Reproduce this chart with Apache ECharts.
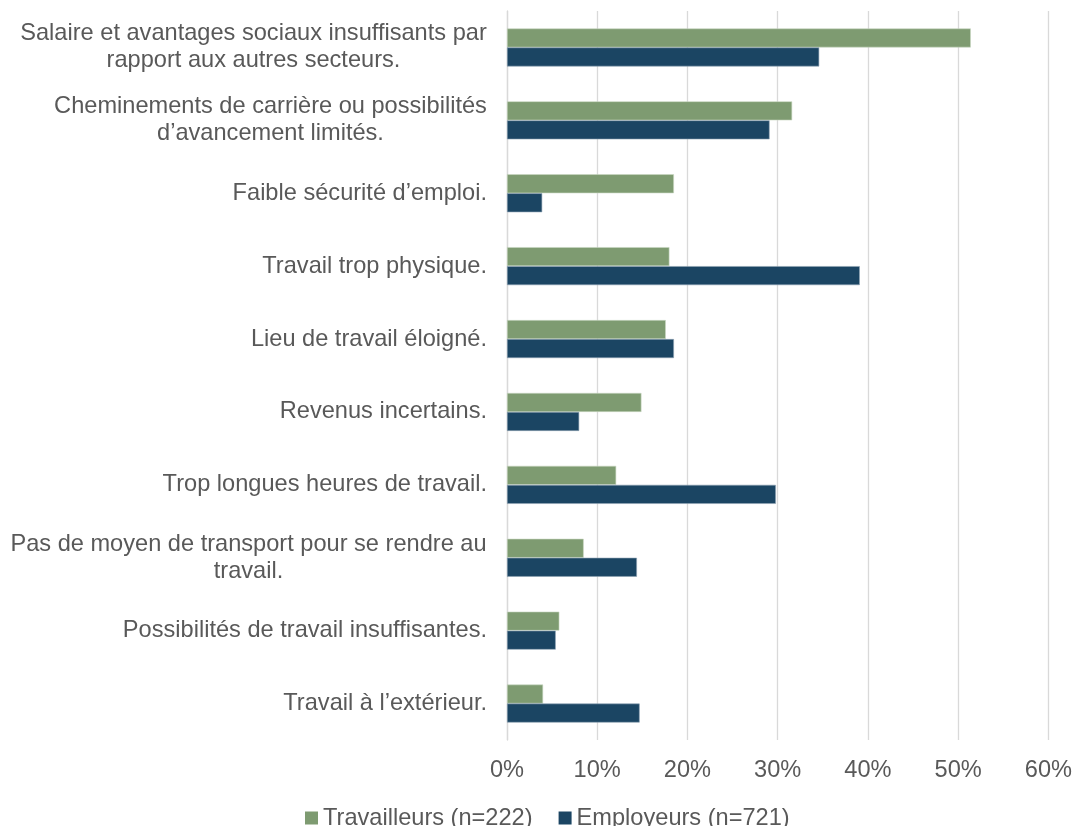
<!DOCTYPE html>
<html>
<head>
<meta charset="utf-8">
<style>
  html, body { margin: 0; padding: 0; background: #ffffff; }
  #chart { width: 1075px; height: 826px; }
</style>
<script src="https://cdn.jsdelivr.net/npm/echarts@6/dist/echarts.min.js"></script>
</head>
<body>
<div id="chart"></div>
<script>
// Reasons given, listed top to bottom
const categories = [
  "Salaire et avantages sociaux insuffisants par\nrapport aux autres secteurs.",
  "Cheminements de carrière ou possibilités\nd’avancement limités.",
  "Faible sécurité d’emploi.",
  "Travail trop physique.",
  "Lieu de travail éloigné.",
  "Revenus incertains.",
  "Trop longues heures de travail.",
  "Pas de moyen de transport pour se rendre au\ntravail.",
  "Possibilités de travail insuffisantes.",
  "Travail à l’extérieur."
];
const seriesNames = ["Travailleurs (n=222)", "Employeurs (n=721)"];
// Shares in percent
const travailleurs = [51.4, 31.6, 18.5, 18.0, 17.6, 14.9, 12.1, 8.5, 5.8, 4.0];
const employeurs   = [34.6, 29.1, 3.9, 39.1, 18.5, 8.0, 29.8, 14.4, 5.4, 14.7];
const xTicks = [0, 10, 20, 30, 40, 50, 60];

const FAMILY = '"Liberation Sans", Arial, sans-serif';
const SIZE = 23.6;
const TEXT_COLOR = '#595959';

// Two-line labels: lines are centred on each other, the block is right-aligned.
const ctx = document.createElement('canvas').getContext('2d');
ctx.font = SIZE + 'px ' + FAMILY;
const rich = {};
const labelMap = {};
categories.forEach((c, i) => {
  const lines = c.split('\n');
  if (lines.length > 1) {
    const w = Math.ceil(Math.max(...lines.map(l => ctx.measureText(l).width)));
    const key = 'w' + i;
    rich[key] = { width: w, align: 'center', fontSize: SIZE, lineHeight: 27,
                  color: TEXT_COLOR, fontFamily: FAMILY };
    labelMap[c] = lines.map(l => '{' + key + '|' + l + '}').join('\n');
  } else {
    labelMap[c] = c;
  }
});

const chart = echarts.init(document.getElementById('chart'), null, { renderer: 'canvas' });
chart.setOption({
  animation: false,
  backgroundColor: '#ffffff',
  grid: { left: 507, right: 24, top: 11, bottom: 86, containLabel: false },
  legend: {
    data: seriesNames,
    left: 300, top: 801,
    icon: 'rect', itemWidth: 13, itemHeight: 13, itemGap: 26,
    itemStyle: { borderWidth: 0 },
    textStyle: { fontSize: SIZE, color: TEXT_COLOR, fontFamily: FAMILY }
  },
  xAxis: {
    type: 'value',
    min: xTicks[0], max: xTicks[xTicks.length - 1], interval: 10,
    axisLine: { show: false },
    axisTick: { show: false },
    splitLine: { show: true, lineStyle: { color: '#d9d9d9', width: 1.3 } },
    axisLabel: {
      margin: 18, fontSize: SIZE, color: TEXT_COLOR, fontFamily: FAMILY,
      formatter: v => v + '%'
    }
  },
  yAxis: {
    type: 'category',
    data: categories,
    inverse: true,
    axisLine: { show: true, lineStyle: { color: '#d9d9d9', width: 1.3 } },
    axisTick: { show: false },
    axisLabel: {
      margin: 20, fontSize: SIZE, lineHeight: 27, color: TEXT_COLOR, fontFamily: FAMILY,
      align: 'right',
      formatter: v => labelMap[v],
      rich: rich
    }
  },
  series: [
    {
      name: seriesNames[0], type: 'bar', data: travailleurs,
      barWidth: 19, barGap: '0%',
      itemStyle: { color: '#7e9b71', borderColor: '#c9d6c3', borderWidth: 0.6 }
    },
    {
      name: seriesNames[1], type: 'bar', data: employeurs,
      barWidth: 19, barGap: '0%',
      itemStyle: { color: '#1b4563', borderColor: '#8ea3b3', borderWidth: 0.6 }
    }
  ]
});
</script>
</body>
</html>
